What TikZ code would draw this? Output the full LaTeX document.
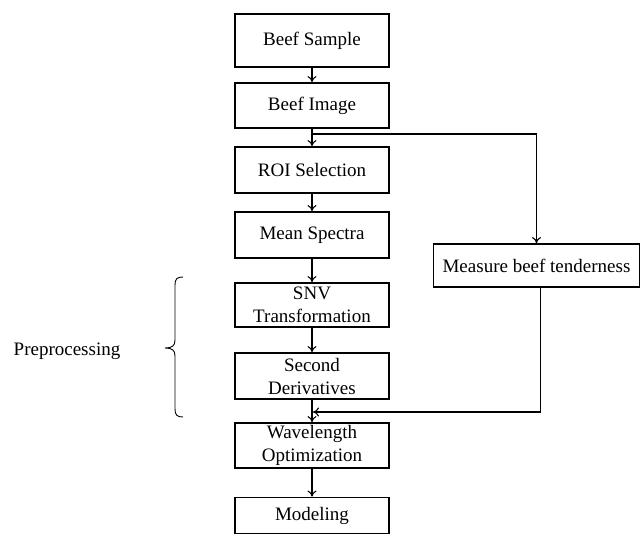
\documentclass[tikz,border=0pt]{standalone}
\usepackage{fontspec}
\setmainfont{Liberation Serif}
\usetikzlibrary{arrows.meta}
\begin{document}
\begin{tikzpicture}[x=1pt,y=-1pt,
  box/.style={draw, line width=1.8pt, minimum width=154pt, inner sep=0pt, align=center,
    font=\fontsize{19}{23}\selectfont},
  arr/.style={line width=1.1pt, -{To[length=6pt,width=9pt]}},
  ln/.style={line width=1.1pt}]
\useasboundingbox (0,0) rectangle (641,535);
\node[box, minimum height=53pt] (a) at (312,40.5) {Beef Sample};
\node[box, minimum height=45pt] (b) at (312,105.5) {Beef Image};
\node[box, minimum height=46pt] (c) at (312,170) {ROI Selection};
\node[box, minimum height=46pt] (d) at (312,235) {Mean Spectra};
\node[box, minimum height=44pt] (e) at (312,305) {SNV\\Transformation};
\node[box, minimum height=46pt] (f) at (312,376) {Second\\Derivatives};
\node[box, minimum height=45pt] (g) at (312,445.5) {Wavelength\\Optimization};
\node[box, minimum height=36pt] (h) at (312,515.5) {Modeling};
\node[box, minimum width=206pt, minimum height=43pt] (m) at (536.5,265.5) {Measure beef tenderness};
\node[font=\fontsize{19}{23}\selectfont, inner sep=0pt] (p) at (67,351) {Preprocessing};
\draw[arr] (a) -- (b);
\draw[arr] (b) -- (c);
\draw[arr] (c) -- (d);
\draw[arr] (d) -- (e);
\draw[arr] (e) -- (f);
\draw[arr] (f) -- (g);
\draw[arr] (g) -- (h);
\coordinate (br) at (312,134);
\coordinate (ret) at (313,412);
\draw[arr] (br) -| (m.north);
\draw[arr] ([xshift=4pt]m.south) |- (ret);
\draw[line width=0.9pt] (183,277) .. controls (177,277) and (175,279) .. (175,285)
  -- (175,340) .. controls (175,346) and (172,348) .. (165,348)
  .. controls (172,348) and (175,350) .. (175,356)
  -- (175,409) .. controls (175,415) and (177,417) .. (183,417);
\end{tikzpicture}
\end{document}
